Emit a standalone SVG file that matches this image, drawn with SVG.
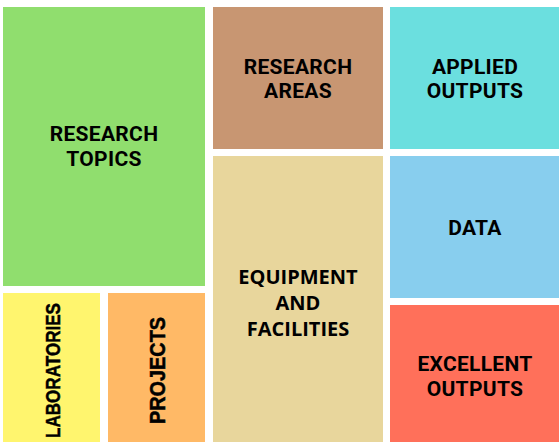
<svg xmlns="http://www.w3.org/2000/svg" width="559" height="442" viewBox="0 0 559 442">
<style>
.lbl{font-family:Roboto,"Liberation Sans",sans-serif;font-weight:bold;font-size:21px;fill:#000;text-anchor:middle;letter-spacing:0.3px}
.eq{font-family:"Open Sans","Noto Sans",sans-serif;font-weight:bold;font-size:20px;fill:#000;text-anchor:middle}
.rot{font-family:"Liberation Sans",Arial,sans-serif;font-weight:bold;fill:#000;text-anchor:middle;stroke:#000;stroke-width:0.5px}
</style>
<rect x="0" y="0" width="559" height="442" fill="#fff"/>
<g id="research-topics"><rect x="3" y="7" width="202" height="279" fill="#90DE6E"/><text class="lbl" x="104" y="140.5">RESEARCH<tspan x="104" dy="25">TOPICS</tspan></text></g>
<g id="laboratories"><rect x="3" y="293" width="97" height="149" fill="#FFF56E"/><text class="rot" font-size="21" textLength="135" lengthAdjust="spacingAndGlyphs" transform="translate(60,370.5) rotate(-90)" x="0" y="0">LABORATORIES</text></g>
<g id="projects"><rect x="108" y="293" width="97" height="149" fill="#FFB966"/><text class="rot" font-size="22" textLength="107" lengthAdjust="spacingAndGlyphs" transform="translate(165,370.5) rotate(-90)" x="0" y="0">PROJECTS</text></g>
<g id="research-areas"><rect x="213" y="7" width="170" height="142" fill="#C89672"/><text class="lbl" x="298" y="73.5">RESEARCH<tspan x="298" dy="24.5">AREAS</tspan></text></g>
<g id="equipment"><rect x="213" y="156" width="170" height="286" fill="#E8D69C"/><text class="eq" x="298" y="283.5">EQUIPMENT<tspan x="298" dy="26">AND</tspan><tspan x="298" dy="26">FACILITIES</tspan></text></g>
<g id="applied-outputs"><rect x="390" y="7" width="169" height="142" fill="#6BDFDF"/><text class="lbl" x="475" y="73.5">APPLIED<tspan x="475" dy="24.5">OUTPUTS</tspan></text></g>
<g id="data"><rect x="390" y="156" width="169" height="142" fill="#88CEEE"/><text class="lbl" x="475" y="234.5">DATA</text></g>
<g id="excellent-outputs"><rect x="390" y="305" width="169" height="137" fill="#FF705A"/><text class="lbl" x="475" y="370.5">EXCELLENT<tspan x="475" dy="25">OUTPUTS</tspan></text></g>
<g id="connectors"></g>
</svg>
